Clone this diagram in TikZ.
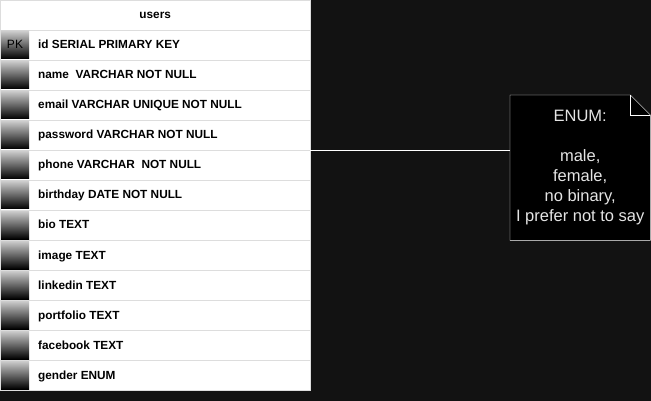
\documentclass[tikz,border=0pt]{standalone}
\usepackage{fontspec}
\setmainfont{Liberation Sans}
\definecolor{canvas}{HTML}{121212}
\definecolor{rowline}{HTML}{DDDDDD}
\definecolor{notetext}{HTML}{E4E4E4}
\tikzset{
  rowbox/.style={draw=rowline, fill=white, minimum width=310pt, minimum height=30pt, inner sep=0pt, anchor=north west},
  fieldtext/.style={anchor=base west, inner sep=0pt, font=\fontsize{11.8}{13}\selectfont\bfseries},
}

\begin{document}
\begin{tikzpicture}[x=1pt, y=-1pt]
  \fill[canvas] (0,0) rectangle (651,401);
  \useasboundingbox (0,0) rectangle (651,401);
  % table
  \node[rowbox, font=\fontsize{11.8}{13}\selectfont\bfseries] (users) at (0,0) {users};
  \foreach \field [count=\i] in {id SERIAL PRIMARY KEY, name\ \ VARCHAR NOT NULL, email VARCHAR UNIQUE NOT NULL,
      password VARCHAR NOT NULL, phone VARCHAR\ \ NOT NULL, birthday DATE NOT NULL, bio TEXT, image TEXT,
      linkedin TEXT, portfolio TEXT, facebook TEXT, gender ENUM} {
    \node[rowbox] (row\i) at (0, 30*\i) {};
    \shade[top color=black!20, bottom color=black] (1, 30*\i+1) rectangle (29, 30*\i+29);
    \node[fieldtext] (field\i) at (38, 30*\i+19) {\field};
  }
  \node[anchor=base, inner sep=0pt, font=\fontsize{12}{14}\selectfont] (pk) at (15, 49) {PK};
  % note
  \node[minimum width=140pt, minimum height=145pt, inner sep=0pt, anchor=north west] (note) at (510, 95) {};
  \draw[white, fill=black] (note.north west) -- ([xshift=-20pt]note.north east) -- ([yshift=-20pt]note.north east)
      -- (note.south east) -- (note.south west) -- cycle;
  \draw[white] ([xshift=-20pt]note.north east) -- ([xshift=-20pt, yshift=-20pt]note.north east) -- ([yshift=-20pt]note.north east);
  \node[notetext, align=center, font=\fontsize{16.5}{20}\selectfont] (enum) at (note.center)
      {ENUM:\\[20pt] male,\\ female,\\ no binary,\\ I prefer not to say};
  \coordinate (tabside) at (310, 150);
  \draw[white] (tabside) -- (tabside -| note.west);
\end{tikzpicture}
\end{document}
